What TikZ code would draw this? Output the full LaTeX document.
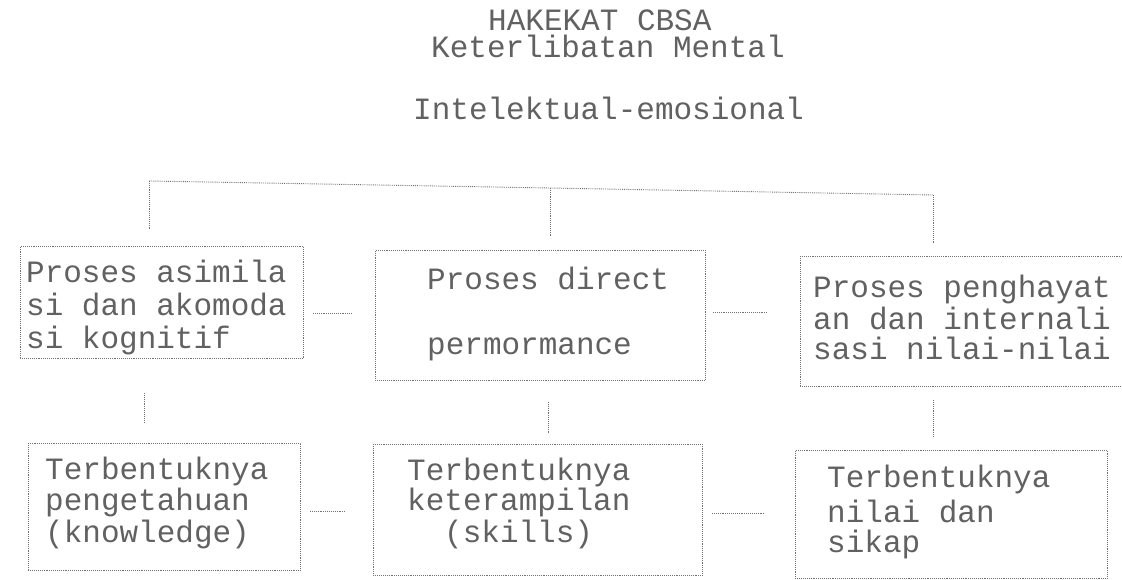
\documentclass[tikz,border=0pt]{standalone}
\usepackage{fontspec}
\newfontfamily\dotm{Liberation Mono}
\begin{document}
\tikzset{
  boxst/.style={draw=black!55, line width=0.9pt, densely dotted, inner sep=0pt, anchor=north west},
  lnk/.style={draw=black!55, line width=0.9pt, densely dotted},
  txt/.style={text=black!62, font=\dotm\fontsize{31}{32}\selectfont, inner sep=0pt, anchor=base west, text height=19pt, text depth=5pt},
}
\begin{tikzpicture}[x=1pt,y=-1pt]
\clip (0,0) rectangle (1122,580);
\fill[white] (0,0) rectangle (1122,580);
% titles
\node[txt] (h1) at (488,31) {HAKEKAT CBSA};
\node[txt] (h2) at (431,58) {Keterlibatan Mental};
\node[txt] (h3) at (413,120) {Intelektual-emosional};
% bus
\coordinate (busL) at (149,181);
\coordinate (busM) at (550,188);
\coordinate (busR) at (933,195);
\coordinate (dL) at (149,230);
\coordinate (dM) at (550,237);
\coordinate (dR) at (933,244);
\draw[lnk] (busL) -- (busM) -- (busR);
\draw[lnk] (busL) -- (dL);
\draw[lnk] (busM) -- (dM);
\draw[lnk] (busR) -- (dR);
% top boxes
\node[boxst, minimum width=283pt, minimum height=112pt] (b1) at (20,246) {};
\node[boxst, minimum width=330pt, minimum height=130pt] (b2) at (375,250) {};
\node[boxst, minimum width=340pt, minimum height=130pt] (b3) at (800,256) {};
\node[txt] (t1a) at (26,282) {Proses asimila};
\node[txt] (t1b) at (26,315) {si dan akomoda};
\node[txt] (t1c) at (26,348) {si kognitif};
\node[txt] (t2a) at (427,289) {Proses direct};
\node[txt] (t2b) at (427,354) {permormance};
\node[txt] (t3a) at (813,297) {Proses penghayat};
\node[txt] (t3b) at (813,329) {an dan internali};
\node[txt] (t3c) at (813,359) {sasi nilai-nilai};
% bottom boxes
\node[boxst, minimum width=272pt, minimum height=127pt] (b4) at (28,443) {};
\node[boxst, minimum width=329pt, minimum height=131pt] (b5) at (373,444) {};
\node[boxst, minimum width=312pt, minimum height=128pt] (b6) at (795,450) {};
\node[txt] (t4a) at (45,479) {Terbentuknya};
\node[txt] (t4b) at (45,510) {pengetahuan};
\node[txt] (t4c) at (45,542) {(knowledge)};
\node[txt] (t5a) at (407,480) {Terbentuknya};
\node[txt] (t5b) at (407,510) {keterampilan};
\node[txt] (t5c) at (444,542) {(skills)};
\node[txt] (t6a) at (827,487) {Terbentuknya};
\node[txt] (t6b) at (827,522) {nilai dan};
\node[txt] (t6c) at (827,552) {sikap};
% horizontal links
\coordinate (h12a) at (313,313); \coordinate (h12b) at (352,313);
\coordinate (h23a) at (713,312); \coordinate (h23b) at (768,312);
\coordinate (h45a) at (310,511); \coordinate (h45b) at (345,511);
\coordinate (h56a) at (712,513); \coordinate (h56b) at (765,513);
\draw[lnk] (h12a) -- (h12b);
\draw[lnk] (h23a) -- (h23b);
\draw[lnk] (h45a) -- (h45b);
\draw[lnk] (h56a) -- (h56b);
% vertical links
\coordinate (v14a) at (144,393); \coordinate (v14b) at (144,423);
\coordinate (v25a) at (548,402); \coordinate (v25b) at (548,434);
\coordinate (v36a) at (933,400); \coordinate (v36b) at (933,438);
\draw[lnk] (v14a) -- (v14b);
\draw[lnk] (v25a) -- (v25b);
\draw[lnk] (v36a) -- (v36b);
\end{tikzpicture}
\end{document}
